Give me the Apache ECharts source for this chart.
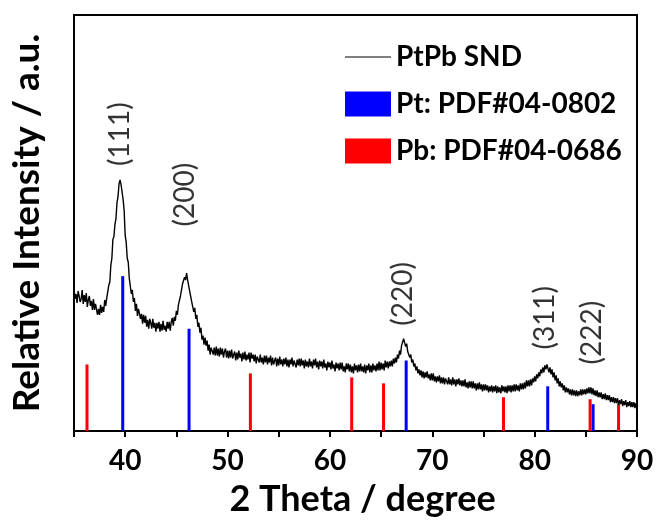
<!DOCTYPE html>
<html>
<head>
<meta charset="utf-8">
<script src="https://cdn.jsdelivr.net/npm/echarts@6/dist/echarts.min.js"></script>
<style>
html,body{margin:0;padding:0;background:#fff;}
#chart{width:658px;height:522px;}
</style>
</head>
<body>
<div id="chart"></div>
<script>
// 2θ sampling grid of the measured pattern
const twoThetaStart = 35;
const twoThetaStep = 0.1;
// Measured intensity (a.u.) of PtPb SND, one value per 2θ step (35.0 ... 90.0)
const ptpbIntensity = [
143,133,138,129,141,136,130,133,142,128,
137,130,139,125,132,136,126,131,122,133,
122,128,130,117,123,117,127,119,125,120,
132,126,134,132,147,150,167,174,193,196,
208,214,230,236,249,253,248,248,233,222,
197,190,174,170,154,153,138,142,130,134,
121,128,116,123,124,113,118,108,117,109,
116,105,112,103,113,109,103,113,104,109,
100,109,103,110,100,108,101,111,102,106,
100,110,103,110,101,110,114,106,115,111,
121,117,127,125,136,136,148,146,155,152,
159,152,154,141,143,130,131,120,124,113,
117,105,109,99,104,92,96,87,94,86,
91,81,87,77,84,85,77,84,76,85,
76,83,75,84,77,83,74,80,83,74,
81,73,81,74,82,73,77,80,71,79,
72,81,74,78,70,79,72,80,71,77,
72,79,69,79,73,77,70,77,68,75,
77,69,77,69,74,67,76,69,76,67,
74,69,76,66,74,67,71,74,65,73,
66,75,67,72,65,73,67,74,65,72,
64,72,67,74,65,71,73,64,72,66,
73,65,73,66,71,63,72,65,70,64,
73,65,70,63,72,66,73,64,70,62,
71,65,70,63,72,64,68,61,70,64,
69,62,71,63,67,60,69,63,68,61,
69,62,69,60,65,59,68,62,68,60,
67,59,65,58,68,61,66,59,67,60,
68,60,65,59,67,58,66,61,68,59,
66,59,68,61,66,60,68,61,70,61,
69,62,68,61,71,64,70,63,70,65,
71,65,73,68,74,69,77,73,81,77,
86,85,93,92,85,88,80,82,74,77,
69,72,65,68,61,65,58,62,56,61,
54,60,53,59,54,60,53,57,51,58,
51,58,50,55,49,55,50,56,48,54,
48,54,47,53,53,47,54,47,52,46,
54,47,52,45,52,47,53,46,51,45,
51,45,52,44,49,43,50,44,50,43,
50,43,48,41,48,42,49,42,47,40,
47,41,47,41,46,39,45,40,46,39,
45,40,46,38,45,39,44,38,46,40,
45,39,45,38,46,40,46,39,46,40,
47,40,47,41,46,40,48,42,48,42,
49,43,51,45,51,45,52,46,53,49,
55,50,57,53,59,55,62,58,64,59,
66,62,67,65,59,64,57,62,54,59,
51,56,48,53,45,50,44,48,41,46,
39,44,39,43,37,42,36,42,36,41,
35,41,35,40,36,42,36,42,37,42,
37,43,38,44,38,44,37,43,36,41,
35,41,34,39,34,39,32,37,32,38,
31,36,31,36,29,34,29,34,28,33,
28,33,26,31,27,32,25,30,26,31,
24,29,25,30,24,29,24,29,23,28,
26
];
// Reference patterns: peak positions (2θ) and relative heights
const ptPeaks = [39.76, 46.24, 67.45, 81.28, 85.71];
const ptHeights = [156, 103, 71, 45, 27];
const pbPeaks = [36.27, 52.23, 62.13, 65.24, 76.96, 85.42, 88.2];
const pbHeights = [67, 58, 54, 48, 34, 32, 27];
// Miller index annotations
const hklLabels = ['(111)', '(200)', '(220)', '(311)', '(222)'];
const hklTheta = [39.45, 45.8, 67.13, 81.0, 85.6];
const hklBase = [267, 206, 106, 82, 67];
// Axis ticks and ranges
const xTickLabels = [40, 50, 60, 70, 80, 90];
const xMin = 35, xMax = 90, xStep = 5, yMin = 0, yMax = 419;

const lineData = ptpbIntensity.map((v, i) => [+(twoThetaStart + i * twoThetaStep).toFixed(2), v]);
const ptData = ptPeaks.map((t, i) => [t, ptHeights[i]]);
const pbData = pbPeaks.map((t, i) => [t, pbHeights[i]]);
const hklData = hklLabels.map((l, i) => ({ value: [hklTheta[i], hklBase[i]], name: l }));
// top and right sides of the plot box, along the axis extents
const frameData = [[xMin, yMax], [xMax, yMax], [xMax, yMin]];
// split-line colours: only the line at the axis end (the box side) is drawn
const xSplitCount = Math.round((xMax - xMin) / xStep) + 1;
const xSplitColors = Array.from({ length: xSplitCount }, (_, i) => (i === xSplitCount - 1 ? '#000' : 'rgba(0,0,0,0)'));

const FONT = 'Lato';
const chart = echarts.init(document.getElementById('chart'), null, { renderer: 'canvas' });
chart.setOption({
  animation: false,
  backgroundColor: '#fff',
  grid: { left: 74, right: 21, top: 15, bottom: 88, show: true, borderColor: '#000', borderWidth: 2 },
  legend: {
    orient: 'vertical', left: 340, top: 38,
    itemWidth: 46, itemHeight: 25, itemGap: 19,
    textStyle: { fontFamily: FONT, fontWeight: 'bold', fontSize: 28, color: '#000' },
    data: [
      { name: 'PtPb SND', icon: 'path://M0,0 L46,0 L46,1 L0,1 Z', itemStyle: { color: '#000' } },
      { name: 'Pt: PDF#04-0802', icon: 'rect' },
      { name: 'Pb: PDF#04-0686', icon: 'rect' }
    ]
  },
  xAxis: {
    type: 'value', min: xMin, max: xMax, interval: xStep,
    name: '2 Theta / degree', nameLocation: 'middle', nameGap: 50,
    nameTextStyle: { fontFamily: FONT, fontWeight: 'bold', fontSize: 36, color: '#000', padding: [0, 0, 0, 14] },
    axisLine: { show: true, onZero: false, lineStyle: { color: '#000', width: 2 } },
    axisTick: { show: true, inside: false, length: 6, lineStyle: { color: '#000', width: 2 } },
    axisLabel: {
      margin: 16, fontFamily: FONT, fontWeight: 'bold', fontSize: 28, color: '#000',
      formatter: v => (xTickLabels.indexOf(v) >= 0 ? String(v) : '')
    },
    splitLine: { show: true, lineStyle: { color: xSplitColors, width: 2, type: 'solid' } }
  },
  yAxis: {
    type: 'value', min: yMin, max: yMax, interval: yMax,
    name: 'Relative Intensity / a.u.', nameLocation: 'middle', nameGap: 28,
    nameTextStyle: { fontFamily: FONT, fontWeight: 'bold', fontSize: 37, color: '#000' },
    axisLine: { show: true, onZero: false, lineStyle: { color: '#000', width: 2 } },
    axisTick: { show: false }, axisLabel: { show: false },
    splitLine: { show: true, lineStyle: { color: ['rgba(0,0,0,0)', '#000'], width: 2, type: 'solid' } }
  },
  series: [
    {
      name: 'Pt: PDF#04-0802', type: 'bar', data: ptData, barWidth: 3, barGap: '-100%',
      itemStyle: { color: '#0000ff' }, z: 2
    },
    {
      name: 'Pb: PDF#04-0686', type: 'bar', data: pbData, barWidth: 3, barGap: '-100%',
      itemStyle: { color: '#ff0000' }, z: 2
    },
    {
      name: 'PtPb SND', type: 'line', data: lineData, symbol: 'none',
      lineStyle: { color: '#000', width: 1.4 }, itemStyle: { color: '#000' }, z: 3
    },
    {
      name: 'frame', type: 'line', data: frameData, symbol: 'none', silent: true, clip: false,
      lineStyle: { color: '#000', width: 2 }, itemStyle: { color: '#000' }, z: 4
    },
    {
      name: 'hkl', type: 'scatter', data: hklData, symbolSize: 0, silent: true,
      label: {
        show: true, position: 'inside', rotate: 90, align: 'left', verticalAlign: 'middle',
        formatter: p => p.name, fontFamily: FONT, fontSize: 28, color: '#000'
      }
    }
  ]
});
</script>
</body>
</html>
